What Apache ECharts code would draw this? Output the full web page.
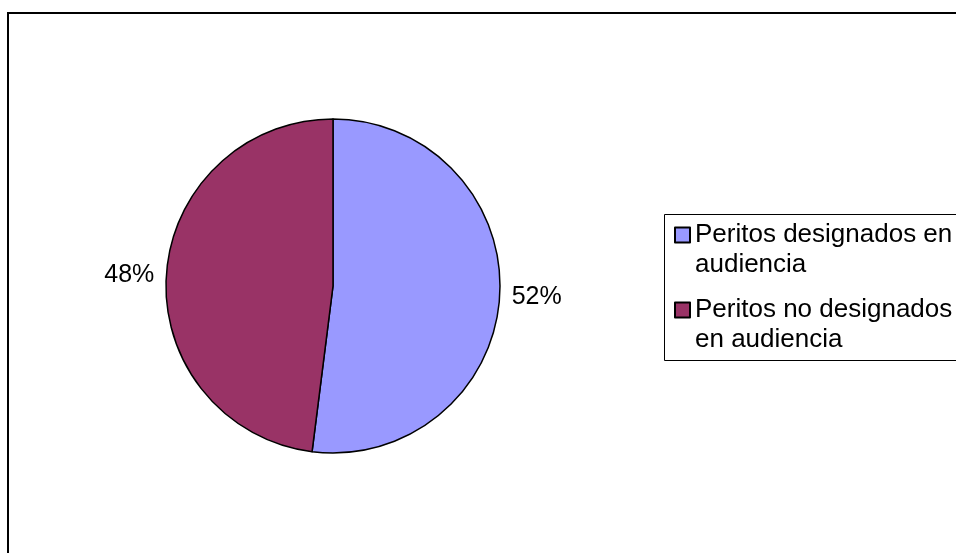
<!DOCTYPE html>
<html lang="es">
<head>
    <meta charset="utf-8" />
    <title>Peritos</title>
    <script src="https://cdn.jsdelivr.net/npm/echarts@6/dist/echarts.min.js"></script>
    <style>
        html, body { margin: 0; padding: 0; background: #fff; }
    </style>
</head>
<body>
    <div id="main" style="width: 956px;height:553px;"></div>
    <script>
        var categories = ['Peritos designados en\naudiencia', 'Peritos no designados\nen audiencia'];
        var values = [52, 48];
        var colors = ['#9999FF', '#993366'];

        var chartDom = document.getElementById('main');
        var myChart = echarts.init(chartDom);

        var pieData = categories.map(function (name, i) {
            return { name: name, value: values[i], itemStyle: { color: colors[i] } };
        });

        var option = {
            animation: false,
            textStyle: { fontFamily: 'Liberation Sans, Arial, sans-serif' },
            graphic: [
                // outer chart frame (runs off the right and bottom edges)
                { type: 'rect', shape: { x: 8, y: 13, width: 1000, height: 600 },
                  style: { fill: null, stroke: '#000', lineWidth: 2 }, z: 0 },
                // legend frame
                { type: 'rect', shape: { x: 664.5, y: 214.5, width: 400, height: 146 },
                  style: { fill: null, stroke: '#000', lineWidth: 1 }, z: 0 }
            ],
            legend: {
                orient: 'vertical',
                left: 674,
                top: 190,
                padding: 0,
                itemWidth: 15,
                itemHeight: 15,
                itemGap: -15,
                icon: 'rect',
                selectedMode: false,
                // blank first line so the icon sits beside the first text line
                formatter: function (name) { return '\n' + name; },
                textStyle: {
                    fontSize: 26,
                    lineHeight: 30,
                    color: '#000',
                    fontFamily: 'Liberation Sans, Arial, sans-serif'
                }
            },
            series: [
                {
                    type: 'pie',
                    center: [333, 286],
                    radius: 167,
                    startAngle: 90,
                    clockwise: true,
                    percentPrecision: 0,
                    data: pieData,
                    itemStyle: { borderColor: '#000', borderWidth: 1.5 },
                    label: {
                        show: true,
                        position: 'outside',
                        formatter: '{d}%',
                        fontSize: 25,
                        color: '#000',
                        fontFamily: 'Liberation Sans, Arial, sans-serif'
                    },
                    labelLine: { show: false, length: 7, length2: 0 },
                    emphasis: { disabled: true }
                }
            ]
        };

        option && myChart.setOption(option);
    </script>
</body>
</html>
